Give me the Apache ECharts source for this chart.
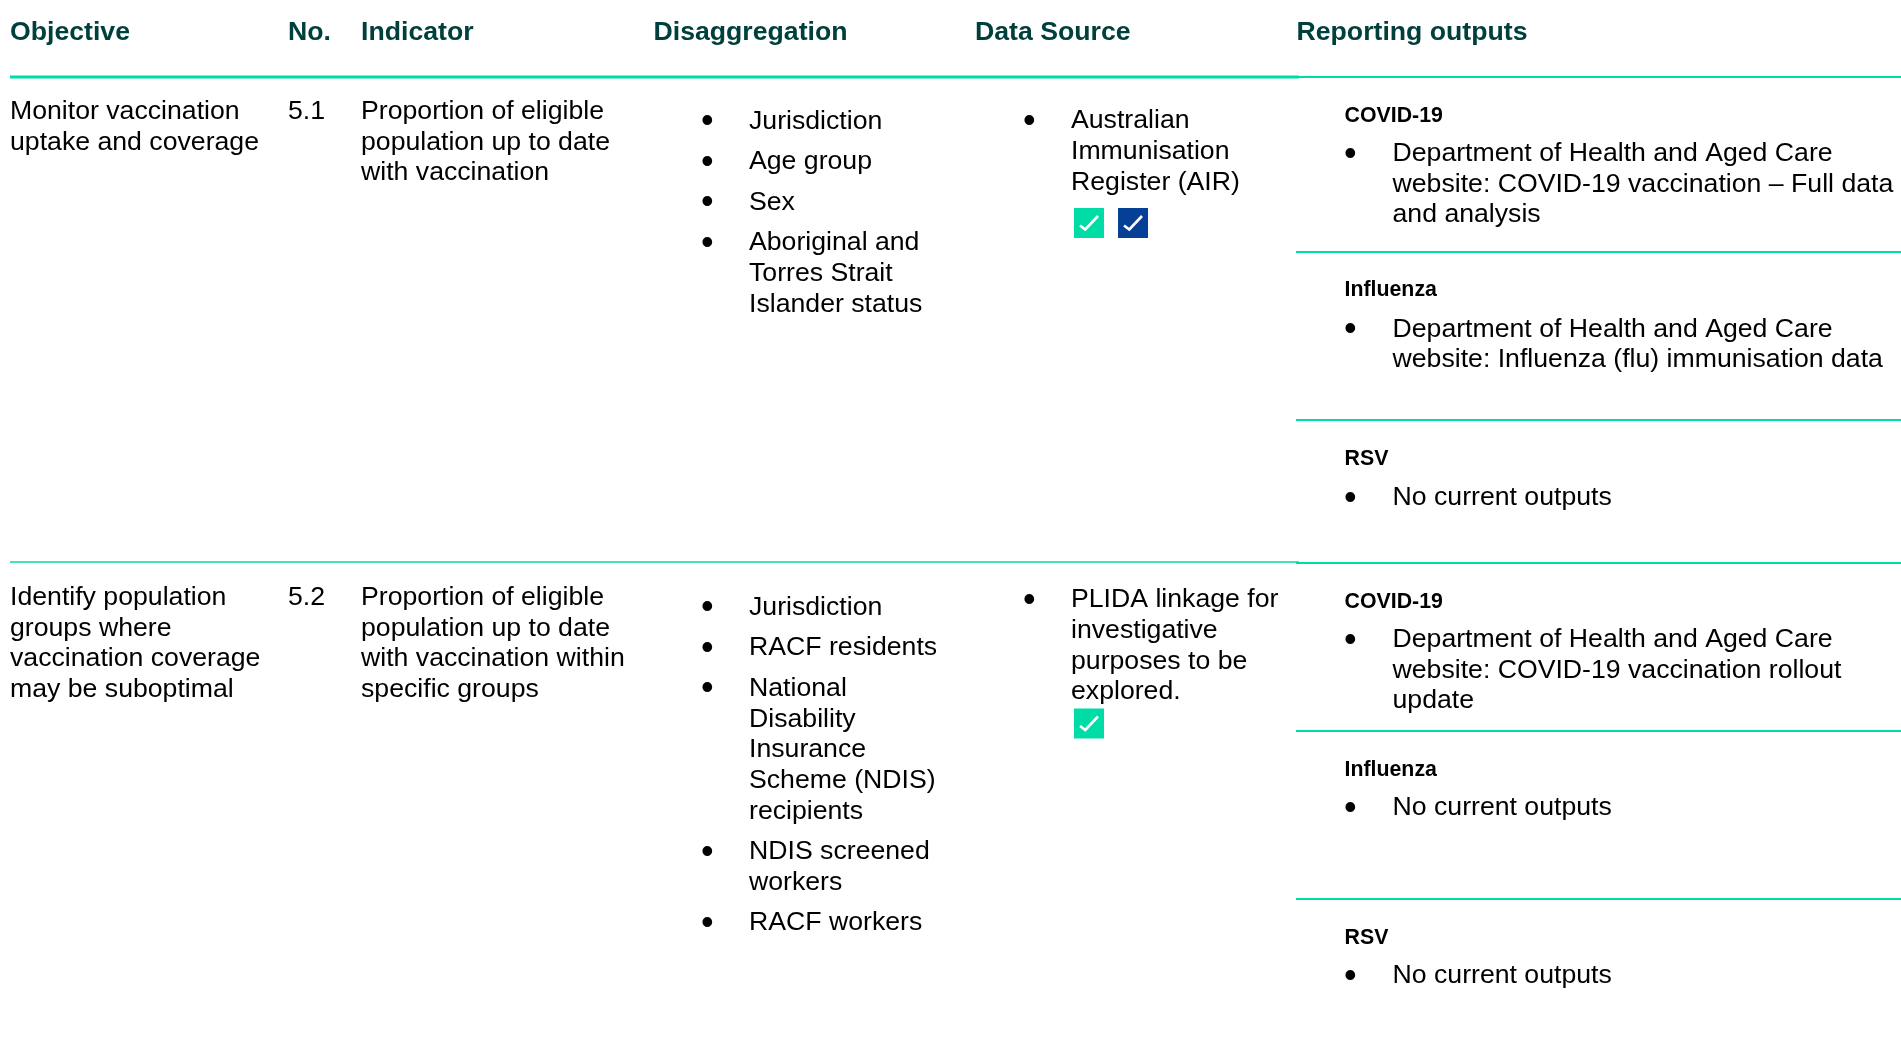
<!DOCTYPE html>
<html>
<head>
<meta charset="utf-8">
<style>html,body{margin:0;padding:0;background:#fff}#c{width:1901px;height:1061px}</style>
<script src="https://cdn.jsdelivr.net/npm/echarts@6/dist/echarts.min.js"></script>
</head>
<body>
<div id="c"></div>
<script>
const headers = ['Objective', 'No.', 'Indicator', 'Disaggregation', 'Data Source', 'Reporting outputs'];
const objectives = [
  ['Monitor vaccination', 'uptake and coverage'],
  ['Identify population', 'groups where', 'vaccination coverage', 'may be suboptimal']
];
const numbers = ['5.1', '5.2'];
const indicators = [
  ['Proportion of eligible', 'population up to date', 'with vaccination'],
  ['Proportion of eligible', 'population up to date', 'with vaccination within', 'specific groups']
];
const disaggregations = [
  [['Jurisdiction'], ['Age group'], ['Sex'], ['Aboriginal and', 'Torres Strait', 'Islander status']],
  [['Jurisdiction'], ['RACF residents'], ['National', 'Disability', 'Insurance', 'Scheme (NDIS)', 'recipients'], ['NDIS screened', 'workers'], ['RACF workers']]
];
const dataSources = [
  ['Australian', 'Immunisation', 'Register (AIR)'],
  ['PLIDA linkage for', 'investigative', 'purposes to be', 'explored.']
];
const outputHeads = ['COVID-19', 'Influenza', 'RSV'];
const outputs = [
  [['Department of Health and Aged Care', 'website: COVID-19 vaccination \u2013 Full data', 'and analysis'],
   ['Department of Health and Aged Care', 'website: Influenza (flu) immunisation data'],
   ['No current outputs']],
  [['Department of Health and Aged Care', 'website: COVID-19 vaccination rollout', 'update'],
   ['No current outputs'],
   ['No current outputs']]
];
const checkColours = [['#00dca5', '#063f96'], ['#00dca5']];

// layout (pixels)
const FONT = '"Liberation Sans", Arial, sans-serif';
const SIZE = 26.67, HEAD_SIZE = 21.33, BULLET_SIZE = 36, LH = 30.4, LIST_LH = 30.7, ITEM_GAP = 40.5;
const colX = [10, 288, 361, 653.5, 975, 1296.5];
const headerY = 33;
const rowTextY = [112, 598];
const disaggY = [121.5, 607.5];
const sourceY = [121, 600];
const checkY = [208, 708.5];
const outHeadY = [[116, 290.5, 459], [602, 770, 938]];
const outTextY = [[154, 329.5, 498], [640, 808, 976]];
const ruleY = [[252, 420], [731, 899]];

const els = [];
function text(x, y, s, opt) {
  opt = opt || {};
  els.push({
    type: 'text', x: x, y: y, silent: true,
    style: {
      text: s, fill: opt.fill || '#000000',
      font: (opt.weight || 'normal') + ' ' + (opt.size || SIZE) + 'px ' + FONT,
      textAlign: 'left', textVerticalAlign: 'middle', verticalAlign: 'middle'
    }
  });
}
function block(x, y, lines, lh) { lines.forEach((l, i) => text(x, y + i * (lh || LH), l)); }
function rule(x1, x2, y, w) {
  els.push({ type: 'rect', silent: true, shape: { x: x1, y: y - w / 2, width: x2 - x1, height: w }, style: { fill: '#00dca5' } });
}
function bullet(x, y) { text(x, y + 1, '\u2022', { size: BULLET_SIZE }); }
function check(x, y, col) {
  els.push({ type: 'rect', silent: true, shape: { x: x, y: y, width: 30, height: 30 }, style: { fill: col } });
  els.push({ type: 'polyline', silent: true, shape: { points: [[x + 6, y + 17.5], [x + 11.3, y + 21.5], [x + 24, y + 8]] }, style: { stroke: '#fff', lineWidth: 2.6, fill: null } });
}

headers.forEach((h, i) => text(colX[i], headerY, h, { weight: 'bold', fill: '#00403c' }));

rule(10, 1299, 77, 3);
rule(1296, 1901, 77, 2);
rule(10, 1299, 562, 1.5);
rule(1296, 1901, 563, 2);

[0, 1].forEach(r => {
  block(colX[0], rowTextY[r], objectives[r]);
  text(colX[1], rowTextY[r], numbers[r]);
  block(colX[2], rowTextY[r], indicators[r]);

  let y = disaggY[r];
  disaggregations[r].forEach(item => {
    bullet(701, y);
    block(749, y, item, LIST_LH);
    y += (item.length - 1) * LIST_LH + ITEM_GAP;
  });

  bullet(1023, sourceY[r]);
  block(1071, sourceY[r], dataSources[r], LIST_LH);
  checkColours[r].forEach((c, i) => check(1074 + i * 44, checkY[r], c));

  outputHeads.forEach((h, i) => {
    text(1344.5, outHeadY[r][i], h, { weight: 'bold', size: HEAD_SIZE });
    bullet(1344, outTextY[r][i]);
    block(1392.5, outTextY[r][i], outputs[r][i]);
  });
  ruleY[r].forEach(v => rule(1296, 1901, v, 2));
});

const chart = echarts.init(document.getElementById('c'), null, { renderer: 'canvas' });
chart.setOption({ backgroundColor: '#ffffff', animation: false, graphic: { elements: els } });
</script>
</body>
</html>
